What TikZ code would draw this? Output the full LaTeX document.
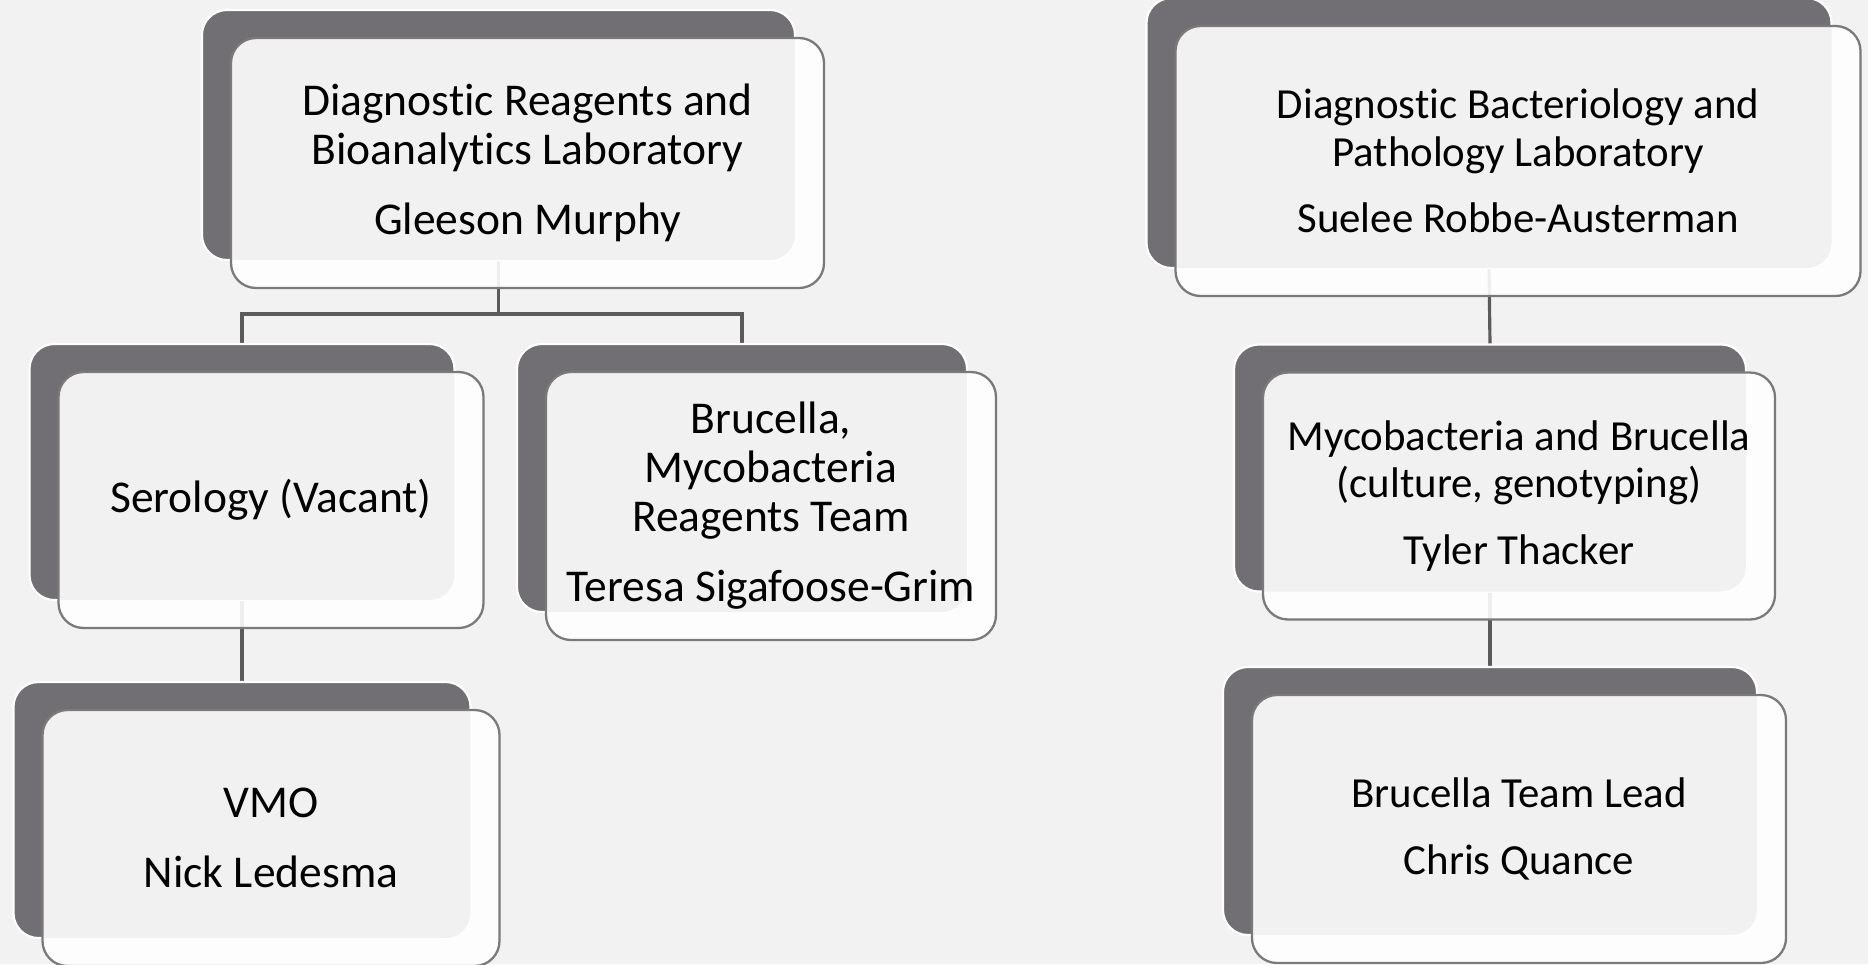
\documentclass[tikz,border=0pt]{standalone}
\usepackage{fontspec}
\setmainfont{Carlito}[Ligatures=NoCommon]
\usetikzlibrary{backgrounds}
\definecolor{bg}{HTML}{F2F2F2}
\definecolor{darkbox}{HTML}{716F74}
\definecolor{lite}{HTML}{F1F1F1}
\definecolor{rim}{HTML}{7A7A7A}
\definecolor{wire}{HTML}{5B5B5B}

\begin{document}
\begin{tikzpicture}[
x=0.02cm, y=-0.02cm,% one unit = one pixel of the slide
  back/.style = {rectangle, rounded corners=0.5cm,% dark card behind
                 fill=darkbox, draw=white, line width=1.2pt,
                 inner sep=0pt, outer sep=0pt},
 front/.style = {rectangle, rounded corners=0.5cm,% white card with the text
                 fill=white, fill opacity=0.9, text opacity=1,
                 draw=rim, line width=1.3pt,
                 inner sep=0pt, outer sep=0pt, align=center},
    lt/.style = {font=\fontsize{25.9}{27.7}\selectfont},% left tree
    rt/.style = {font=\fontsize{24.4}{27.0}\selectfont},% right tree
  link/.style = {draw=wire, line width=1.8pt},
                    ]
\useasboundingbox (0,0) rectangle (1868,964);

% name / centre x / centre y / width / height / font / text
\foreach \n/\x/\y/\w/\h/\k/\t in {
    R/527.5/163/593/250/lt/{Diagnostic Reagents and\\Bioanalytics Laboratory\\[12.5pt]Gleeson Murphy},
    S/271/500/425/256/lt/{Serology (Vacant)},
    B/771/506/450/268/lt/{Brucella,\\Mycobacteria\\Reagents Team\\[12.5pt]Teresa Sigafoose-Grim},
    V/271/838/457/256/lt/{VMO\\[12.5pt]Nick Ledesma},
    D/1518/161/685/270/rt/{Diagnostic Bacteriology and\\Pathology Laboratory\\[11pt]Suelee Robbe-Austerman},
    M/1519/496/512/247/rt/{Mycobacteria and Brucella\\(culture, genotyping)\\[11pt]Tyler Thacker},
    L/1519/829/534/268/rt/{Brucella Team Lead\\[11pt]Chris Quance}}
{
\node[back, minimum width=\w*0.02cm, minimum height=\h*0.02cm] (\n-b) at ({\x-29},{\y-28}) {};
\node[front, \k, minimum width=\w*0.02cm, minimum height=\h*0.02cm,
      path picture={\fill[lite, fill opacity=1, rounded corners=0.5cm]
                    (\n-b.north west) rectangle (\n-b.south east);}] (\n) at (\x,\y) {\t};
}

\begin{scope}[on background layer]
\fill[bg] (0,0) rectangle (1868,964);
\draw[link] (R-b.south) -- ++(0,54) -| (S-b.north);
\draw[link] (R-b.south) -- ++(0,54) -| (B-b.north);
\draw[link] (S-b.south) -- (V-b.north);
\draw[link] (D-b.south) -- (M-b.north);
\draw[link] (M-b.south) -- (L-b.north);
\end{scope}

\end{tikzpicture}
\end{document}
